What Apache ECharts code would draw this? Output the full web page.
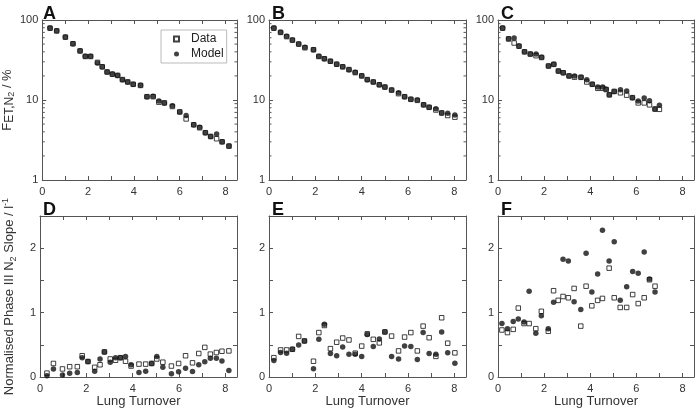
<!DOCTYPE html>
<html><head><meta charset="utf-8">
<script src="https://cdn.jsdelivr.net/npm/echarts@6/dist/echarts.min.js"></script>
<style>html,body{margin:0;padding:0;background:#fff}#c{width:696px;height:409px}</style>
</head><body><div id="c"></div>
<script>
// Panel A
const xA = [0.34,0.63,1.01,1.34,1.65,1.88,2.11,2.41,2.62,2.83,3.06,3.29,3.50,3.73,3.97,4.29,4.57,4.84,5.09,5.33,5.68,6.00,6.28,6.61,6.87,7.12,7.35,7.61,7.85,8.15];
const dataA = [79,73,61,50.5,41,35,35,29.5,26,22.4,21,20.3,18,16.8,15.7,15.2,11,11,9.4,9.2,8.3,7.1,5.8,4.9,4.5,3.9,3.5,3.28,3.0,2.65];
const modelA = [79.4,73.5,61.3,50.6,41.3,35.2,35.2,29.0,26.1,22.4,21.1,20.3,17.9,16.8,15.7,15.3,11.0,11.1,9.7,9.2,8.5,7.1,6.4,4.9,4.55,3.9,3.5,3.76,3.0,2.66];
// Panel B
const xB = [0.21,0.50,0.76,1.01,1.28,1.55,1.92,2.15,2.39,2.65,2.92,3.18,3.45,3.72,4.00,4.24,4.50,4.76,5.00,5.29,5.59,5.85,6.12,6.40,6.67,6.91,7.20,7.45,7.71,8.02];
const dataB = [79,70,62,56,50,45,42.5,35,32.8,30.5,28,26,24,22,20,18,16.8,15.5,14.5,13.3,12,11,10.2,9.9,8.7,8.1,7.5,6.9,6.4,6.1];
const modelB = [79.4,70.2,62.5,56.2,50.1,45.5,42.5,35.2,32.8,30.5,27.9,26.1,23.9,22.2,20.1,17.9,16.8,15.5,14.5,13.3,12.3,11.0,10.2,10.0,8.7,8.1,7.8,6.9,6.85,6.5];
// Panel C
const xC = [0.20,0.46,0.70,0.91,1.15,1.40,1.65,1.89,2.19,2.42,2.62,2.83,3.08,3.32,3.60,3.85,4.09,4.33,4.54,4.69,4.83,5.04,5.31,5.58,5.83,6.08,6.34,6.57,6.81,7.00];
const dataC = [79,58,51.6,47,40,37.5,35.8,34,26.6,27.9,23,21.9,20,19.3,19.2,16.8,15.7,14.0,14.0,13.5,11.6,12.8,12.3,11.5,10.7,9.2,9.2,8.7,7.7,7.65];
const modelC = [79.4,58.4,59.6,47.3,40.2,37.6,37.6,34.2,26.6,27.9,23.0,21.9,20.0,20.0,19.2,17.9,15.7,14.5,14.5,13.6,11.6,12.8,13.4,13.0,10.7,9.7,10.6,9.8,7.7,8.6];
// Panel D
const xD = [0.30,0.58,0.97,1.28,1.61,1.82,2.07,2.36,2.59,2.78,3.03,3.26,3.47,3.69,3.93,4.27,4.56,4.82,5.04,5.30,5.67,5.98,6.28,6.58,6.85,7.11,7.35,7.61,7.85,8.15];
const dataD = [0.06,0.21,0.125,0.16,0.16,0.33,0.24,0.15,0.19,0.39,0.28,0.26,0.30,0.245,0.17,0.20,0.20,0.21,0.28,0.23,0.17,0.21,0.33,0.22,0.365,0.46,0.355,0.38,0.40,0.405];
const modelD = [0.02,0.125,0.03,0.06,0.07,0.30,0.24,0.09,0.28,0.39,0.23,0.30,0.30,0.32,0.19,0.07,0.09,0.21,0.32,0.15,0.05,0.08,0.135,0.085,0.19,0.235,0.29,0.29,0.25,0.10];
// Panel E
const xE = [0.21,0.50,0.76,1.01,1.28,1.53,1.92,2.15,2.39,2.65,2.92,3.18,3.45,3.72,4.00,4.24,4.50,4.76,5.00,5.29,5.59,5.85,6.12,6.40,6.65,6.91,7.20,7.45,7.71,8.02];
const dataE = [0.30,0.42,0.42,0.43,0.63,0.56,0.245,0.69,0.80,0.44,0.54,0.605,0.575,0.37,0.48,0.67,0.585,0.53,0.70,0.635,0.405,0.62,0.69,0.405,0.79,0.61,0.32,0.92,0.525,0.375];
const modelE = [0.255,0.38,0.37,0.43,0.495,0.56,0.13,0.585,0.82,0.365,0.33,0.465,0.355,0.355,0.32,0.66,0.475,0.59,0.70,0.32,0.28,0.48,0.475,0.27,0.69,0.365,0.355,0.70,0.375,0.215];
// Panel F
const xF = [0.17,0.41,0.66,0.88,1.13,1.35,1.64,1.88,2.18,2.41,2.61,2.82,3.05,3.30,3.59,3.82,4.07,4.32,4.53,4.82,5.04,5.30,5.58,5.84,6.08,6.34,6.57,6.81];
const dataF = [0.73,0.69,0.74,1.07,0.83,0.83,0.75,1.02,0.71,1.34,1.19,1.25,1.23,1.375,0.79,1.41,1.105,1.19,1.22,1.69,1.23,1.08,1.08,1.28,1.14,1.23,1.51,1.41];
const modelF = [0.83,0.75,0.86,0.90,0.855,1.33,0.68,0.95,0.75,1.16,null,1.83,1.80,1.17,1.05,1.92,1.32,1.60,2.28,1.80,2.10,1.19,1.40,1.64,1.61,1.94,1.52,1.32];

const panelLetters = ['A','B','C','D','E','F'];
const xTickLabels = ['0','2','4','6','8'];
const logTickLabels = ['1','10','100'];
const logMinorTicks = [2,3,4,5,6,7,8,9,20,30,40,50,60,70,80,90];
const slopeTickLabels = ['0','1','2'];

const panels = [
  {x:xA, d:dataA, m:modelA, log:true},
  {x:xB, d:dataB, m:modelB, log:true},
  {x:xC, d:dataC, m:modelC, log:true},
  {x:xD, d:dataD, m:modelD, log:false},
  {x:xE, d:dataE, m:modelE, log:false},
  {x:xF, d:dataF, m:modelF, log:false}
];
const FONT = "'Liberation Sans', Arial, sans-serif";
const AX = '#555';
const lefts = [40, 269, 498];
const grid = [], xAxis = [], yAxis = [], series = [], title = [];
panels.forEach((p, i) => {
  const col = i % 3, row = Math.floor(i / 3);
  const top = row === 0 ? 20 : 216;
  const h = row === 0 ? 160 : 161;
  grid.push({left: lefts[col], top: top, width: col === 2 ? 196 : 197, height: h});
  title.push({text: panelLetters[i], left: lefts[col] - 2, top: row === 0 ? 0 : 196,
    textStyle: {fontFamily: FONT, fontSize: 18, fontWeight: 'bold', color: '#111'}});
  const xBase = {gridIndex: i, type: 'value', min: 0, max: 8.5, interval: 1,
    axisLine: {show: true, onZero: false, lineStyle: {color: AX, width: 1}},
    axisTick: {show: true, inside: true, length: 4, lineStyle: {color: AX}},
    splitLine: {show: false}};
  xAxis.push(Object.assign({}, xBase, {position: 'bottom',
    axisLabel: {fontFamily: FONT, fontSize: 11, color: '#333', margin: 6,
      formatter: v => xTickLabels.includes(String(v)) ? String(v) : '', showMaxLabel: false},
    name: row === 1 ? 'Lung Turnover' : '', nameLocation: 'middle', nameGap: 18,
    nameTextStyle: {fontFamily: FONT, fontSize: 13, color: '#333'}}));
  xAxis.push(Object.assign({}, xBase, {position: 'top', axisLabel: {show: false}}));
  let yBase;
  if (p.log) {
    yBase = {gridIndex: i, type: 'log', logBase: 10, min: 1, max: 100,
      axisLine: {show: true, onZero: false, lineStyle: {color: AX}},
      axisTick: {show: true, inside: true, length: 4, lineStyle: {color: AX}},
      splitLine: {show: false}};
  } else {
    yBase = {gridIndex: i, type: 'value', min: 0, max: 2.5, interval: 0.5,
      axisLine: {show: true, onZero: false, lineStyle: {color: AX}},
      axisTick: {show: true, inside: true, length: 4, lineStyle: {color: AX}},
      splitLine: {show: false}};
  }
  const yLeft = Object.assign({}, yBase, {position: 'left',
    axisLabel: {fontFamily: FONT, fontSize: 11, color: '#333', margin: 4,
      formatter: v => {
        const s = String(Math.round(v * 1000) / 1000);
        if (p.log) return logTickLabels.includes(s) ? s : '';
        return slopeTickLabels.includes(s) ? s : '';
      }}});
  if (col === 0) {
    yLeft.nameLocation = 'middle';
    yLeft.nameGap = row === 0 ? 19 : 22;
    yLeft.nameRotate = 90;
    if (row === 0) {
      yLeft.name = '{n|F}{s|ET,N}{t|2}{n| / %}';
    } else {
      yLeft.name = '{n|Normalised Phase III N}{t|2}{n| Slope / l}{p|-1}';
    }
    yLeft.nameTextStyle = {fontFamily: FONT, color: '#333',
      rich: {
        n: {fontFamily: FONT, fontSize: 13, color: '#333', lineHeight: 17, verticalAlign: 'middle'},
        s: {fontFamily: FONT, fontSize: 12, color: '#333', lineHeight: 17, verticalAlign: 'bottom'},
        t: {fontFamily: FONT, fontSize: 9, color: '#333', lineHeight: 17, verticalAlign: 'bottom'},
        p: {fontFamily: FONT, fontSize: 9, color: '#333', lineHeight: 17, verticalAlign: 'top'}
      }};
  }
  yAxis.push(yLeft);
  yAxis.push(Object.assign({}, yBase, {position: 'right', axisLabel: {show: false}}));
  const xi = i * 2, yi = i * 2;
  if (p.log) {
    series.push({type: 'custom', xAxisIndex: xi, yAxisIndex: yi, silent: true, z: 1,
      data: logMinorTicks.map(v => [0, v]),
      renderItem: (params, api) => {
        const pt = api.coord([0, api.value(1)]);
        const cs = params.coordSys;
        const st = {stroke: AX, lineWidth: 1};
        return {type: 'group', children: [
          {type: 'line', shape: {x1: cs.x, y1: pt[1], x2: cs.x + 2.5, y2: pt[1]}, style: st},
          {type: 'line', shape: {x1: cs.x + cs.width - 2.5, y1: pt[1], x2: cs.x + cs.width, y2: pt[1]}, style: st}
        ]};
      }});
  }
  series.push({name: 'Data', type: 'scatter', xAxisIndex: xi, yAxisIndex: yi,
    symbol: 'rect', symbolSize: 4.5,
    itemStyle: {color: '#fff', borderColor: '#111', borderWidth: 1},
    data: p.x.map((v, k) => [v, p.d[k]]), z: 2, silent: true});
  series.push({name: 'Model', type: 'scatter', xAxisIndex: xi, yAxisIndex: yi,
    symbol: 'circle', symbolSize: 5.5,
    itemStyle: {color: '#111'},
    data: p.x.map((v, k) => [v, p.m[k]]).filter(e => e[1] != null), z: 3, silent: true});
});

const chart = echarts.init(document.getElementById('c'), null, {renderer: 'canvas'});
chart.setOption({
  animation: false,
  backgroundColor: '#fff',
  title: title,
  legend: {data: ['Data', 'Model'], left: 161, top: 30, orient: 'vertical',
    itemGap: 3, itemWidth: 5, itemHeight: 5, padding: [3, 3, 3, 12],
    borderColor: '#bbb', borderWidth: 1,
    textStyle: {fontFamily: FONT, fontSize: 12, color: '#222', padding: [0, 0, 0, 7]}},
  grid: grid, xAxis: xAxis, yAxis: yAxis, series: series
});
</script></body></html>
